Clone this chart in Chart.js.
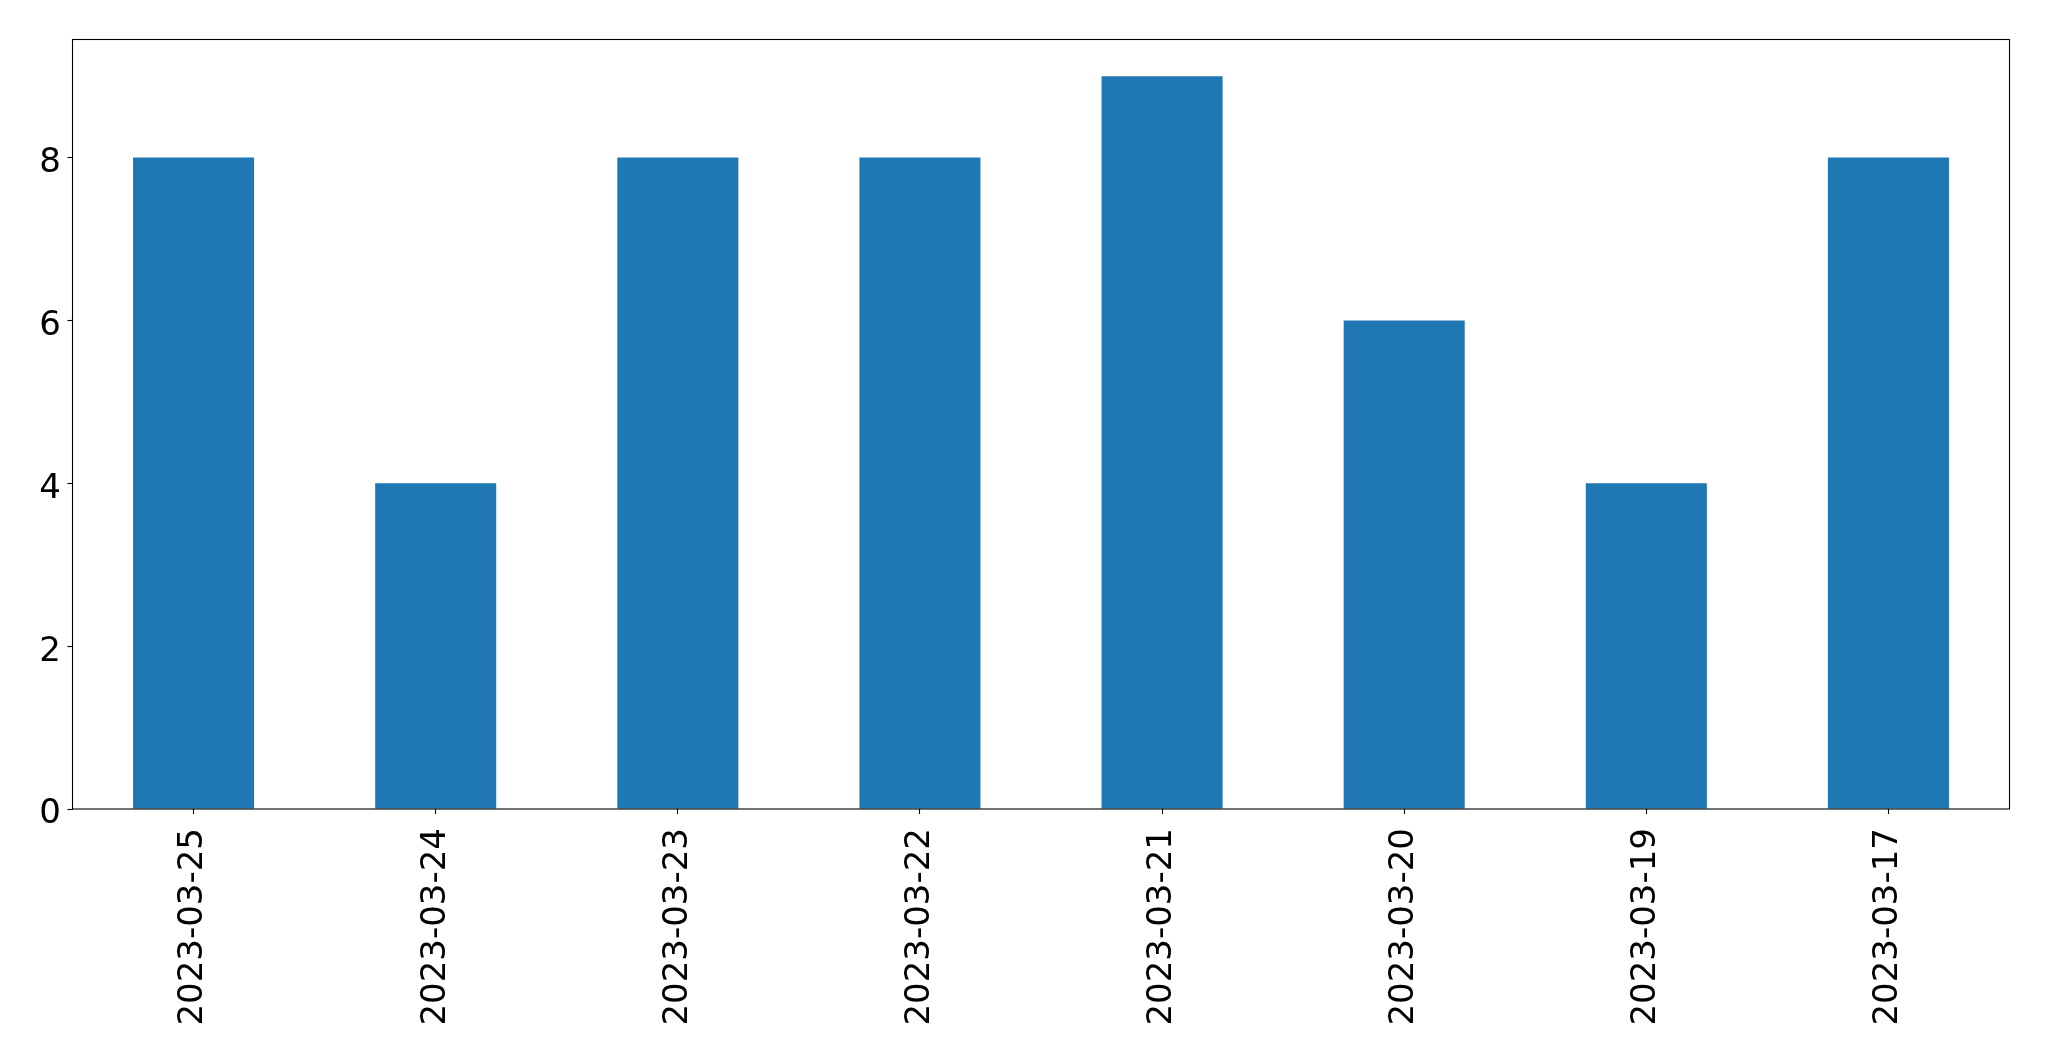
<!DOCTYPE html>
<html>
<head>
<meta charset="utf-8">
<script src="https://cdn.jsdelivr.net/npm/chart.js@4/dist/chart.umd.min.js"></script>
<style>
html,body{margin:0;padding:0;background:#fff;}
canvas{display:block;}
</style>
</head>
<body>
<canvas id="c" width="2049" height="1061"></canvas>
<script>
const categories = ['2023-03-25','2023-03-24','2023-03-23','2023-03-22','2023-03-21','2023-03-20','2023-03-19','2023-03-17'];
const values = [8,4,8,8,9,6,4,8];
const yTicks = [0,2,4,6,8];
const yMax = 9.45;
const FONT_SIZE = 34;

const frame = {
  id: 'frame',
  afterDraw(chart) {
    const a = chart.chartArea, ctx = chart.ctx;
    ctx.save();
    ctx.strokeStyle = '#000';
    ctx.lineWidth = 1.1;
    ctx.strokeRect(a.left, a.top, a.right - a.left, a.bottom - a.top);
    // y tick labels
    const ys = chart.scales.y;
    ctx.fillStyle = '#000';
    ctx.font = FONT_SIZE + 'px "DejaVu Sans"';
    ctx.textAlign = 'right';
    ctx.textBaseline = 'alphabetic';
    yTicks.forEach(v => {
      const py = ys.getPixelForValue(v);
      ctx.fillText(String(v), a.left - 11.5, py + 0.365 * FONT_SIZE + 2);
    });
    ctx.restore();
  }
};

new Chart(document.getElementById('c'), {
  type: 'bar',
  data: {
    labels: categories,
    datasets: [{
      data: values,
      backgroundColor: '#1f77b4',
      borderWidth: 0,
      barPercentage: 0.5,
      categoryPercentage: 1.0
    }]
  },
  options: {
    responsive: false,
    animation: false,
    devicePixelRatio: 1,
    layout: { padding: { top: 39.5, right: 39.5, left: 0, bottom: 0 } },
    plugins: { legend: { display: false }, tooltip: { enabled: false } },
    scales: {
      x: {
        offset: true,
        afterFit(s) { s.height = 252; },
        grid: { offset: false, drawOnChartArea: false, color: '#000', tickLength: 5, tickWidth: 1.1 },
        border: { display: false },
        ticks: {
          autoSkip: false, maxRotation: 90, minRotation: 90, padding: 14,
          color: '#000', font: { family: 'DejaVu Sans', size: FONT_SIZE }
        }
      },
      y: {
        min: 0, max: yMax,
        afterFit(s) { s.width = 72.5; },
        afterBuildTicks(s) { s.ticks = yTicks.map(v => ({ value: v })); },
        grid: { drawOnChartArea: false, color: '#000', tickLength: 5, tickWidth: 1.1 },
        border: { display: false },
        ticks: { display: false }
      }
    }
  },
  plugins: [frame]
});
</script>
</body>
</html>
